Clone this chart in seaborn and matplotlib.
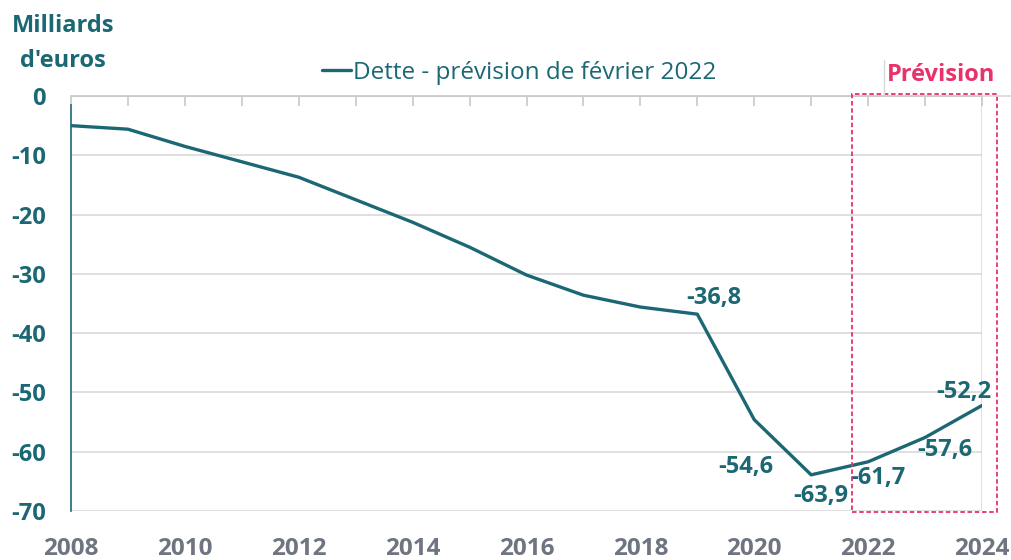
import numpy as np
import pandas as pd
import seaborn as sns
import matplotlib.pyplot as plt
from matplotlib.patches import Rectangle
from matplotlib.ticker import MultipleLocator

# data
years = list(range(2008, 2025))
dette = [-5.0, -5.6, -8.5, -11.1, -13.7, -17.5, -21.3, -25.5, -30.2,
         -33.6, -35.6, -36.8, -54.6, -63.9, -61.7, -57.6, -52.2]
label_years = [2019, 2020, 2021, 2022, 2023, 2024]
label_offsets = [(12, 12), (-6, -34), (7, -15), (7, -12), (14, -9), (-13, 10)]

TEAL = '#1B6874'
PINK = '#E6336A'
GREY = '#6E7580'

df = pd.DataFrame({'Année': years, 'Dette': dette})

sns.set_style('white')
plt.rcParams['font.family'] = ['Open Sans', 'DejaVu Sans']

fig = plt.figure(figsize=(10.11, 5.6), dpi=100)
ax = fig.add_axes([71/1011, 49/560, (982-71)/1011, (511-96)/560])

sns.lineplot(data=df, x='Année', y='Dette', color=TEAL, linewidth=2.4,
             label='Dette - prévision de février 2022', ax=ax)

ax.set_xlim(2008, 2024)
ax.set_ylim(-70, 0)
ax.set_xlabel('')
ax.set_ylabel('')

# grid
ax.yaxis.set_major_locator(MultipleLocator(10))
ax.grid(axis='y', color='#D9D9D9', linewidth=1.2)
ax.grid(axis='x', visible=False)
ax.axvline(2024, color='#D9D9D9', linewidth=1.2, zorder=0)

for s in ['right', 'bottom']:
    ax.spines[s].set_visible(False)
ax.spines['top'].set_color('#C8C8C8')
ax.spines['top'].set_linewidth(1.2)
ax.spines['left'].set_color(TEAL)
ax.spines['left'].set_linewidth(1.2)
ax.spines['left'].set_bounds(-70, -1.5)

# x ticks: every year on the top line, labels every 2 years at the bottom
ax.xaxis.set_major_locator(MultipleLocator(2))
ax.xaxis.set_minor_locator(MultipleLocator(1))
ax.tick_params(axis='x', which='both', top=True, bottom=False, direction='in',
               length=7, width=1.2, color='#C8C8C8', labeltop=False, labelbottom=True)
ax.tick_params(axis='x', which='major', pad=19, labelsize=17.5, labelcolor=GREY)
for t in ax.get_xticklabels():
    t.set_fontweight('bold')

ax.set_yticks(range(-70, 1, 10))
ax.set_yticklabels([str(v) for v in range(-70, 1, 10)])
ax.tick_params(axis='y', direction='in', length=7, width=1.2, color=TEAL,
               pad=18, labelsize=17, labelcolor=TEAL)
for t in ax.get_yticklabels():
    t.set_fontweight('bold')

# value labels
for yr, off in zip(label_years, label_offsets):
    v = dette[years.index(yr)]
    ax.annotate(f'{v:.1f}'.replace('.', ','), (yr, v), xytext=off,
                textcoords='offset points', ha='center', va='center',
                fontsize=17, fontweight='bold', color=TEAL)

# forecast box
ax.add_patch(Rectangle((2021.72, -70.2), 2024.26 - 2021.72, 70.5, fill=False,
                       edgecolor=PINK, linestyle=(0, (2.5, 1.5)), linewidth=1.3,
                       clip_on=False, zorder=5))
fig.text(941/1011, 1 - 75/560, 'Prévision', color=PINK, fontsize=17,
         fontweight='bold', ha='center', va='center')
fig.add_artist(plt.Line2D([884/1011, 884/1011], [1 - 60/560, 1 - 96/560],
                          color='#D9D9D9', linewidth=1))
fig.add_artist(plt.Line2D([982/1011, 1.0], [1 - 96/560, 1 - 96/560],
                          color='#D9D9D9', linewidth=1.2))

fig.text(12/1011, 1 - 26/560, 'Milliards', color=TEAL, fontsize=17,
         fontweight='bold', ha='left', va='center')
fig.text(20/1011, 1 - 61/560, "d'euros", color=TEAL, fontsize=17,
         fontweight='bold', ha='left', va='center')

leg = ax.legend(loc='center', bbox_to_anchor=(519/1011, 1 - 73/560),
                bbox_transform=fig.transFigure, frameon=False, fontsize=17.5,
                handlelength=1.2, handletextpad=0.1, borderaxespad=0)
for t in leg.get_texts():
    t.set_color(TEAL)

fig.savefig('out.png', dpi=100)
